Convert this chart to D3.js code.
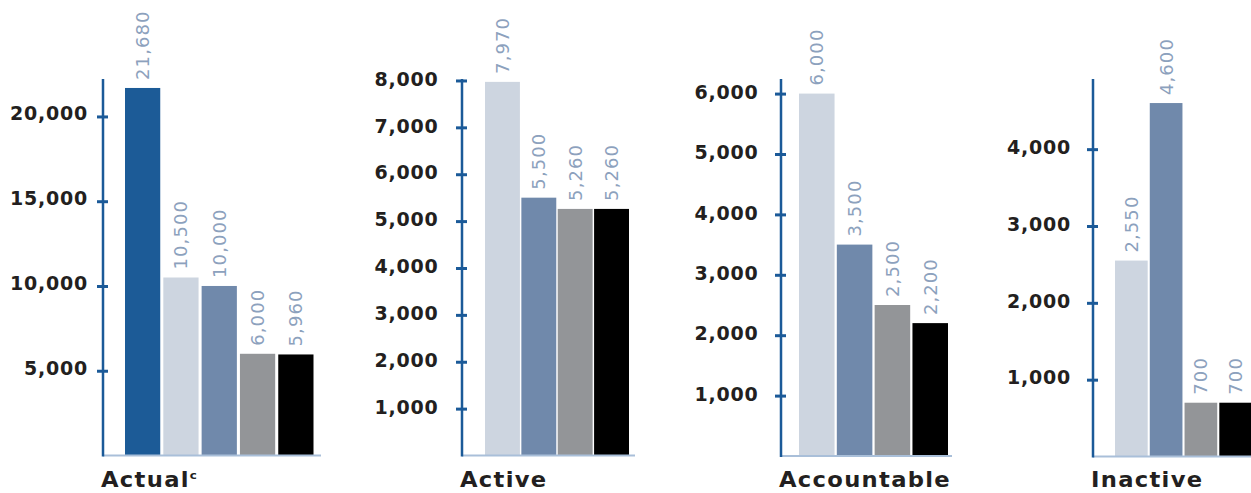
<!DOCTYPE html>
<html>
<head>
<meta charset="utf-8">
<script src="https://cdn.jsdelivr.net/npm/d3@7"></script>
<style>
  body { margin: 0; background: #fff; }
  svg { display: block; }
</style>
</head>
<body>
<div id="chart"></div>
<script>
var width = 1251;
var height = 493;

// data
var categories = ["Actual", "Active", "Accountable", "Inactive"];
var seriesKeys = ["s0", "s1", "s2", "s3", "s4"];
var actualValues = [21680, 10500, 10000, 6000, 5960];
var activeValues = [7970, 5500, 5260, 5260];
var accountableValues = [6000, 3500, 2500, 2200];
var inactiveValues = [2550, 4600, 700, 700];
var actualTicks = [5000, 10000, 15000, 20000];
var activeTicks = [1000, 2000, 3000, 4000, 5000, 6000, 7000, 8000];
var accountableTicks = [1000, 2000, 3000, 4000, 5000, 6000];
var inactiveTicks = [1000, 2000, 3000, 4000];
var axisMax = [22150, 8010, 6225, 4900];

var seriesColors = {s0: "#1c5b97", s1: "#cdd5e0", s2: "#7089ab", s3: "#939598", s4: "#000000"};

// layout of the four small panels (pixels, not data)
var panels = [
    {name: categories[0], values: actualValues, keys: seriesKeys, ticks: actualTicks, max: axisMax[0],
     axisX: 103, base: 455.5, barStart: 125, barEnd: 313.5, pad: 0.08, lineEnd: 321, tickPad: 9, tickDy: "0.18em", sup: "c"},
    {name: categories[1], values: activeValues, keys: seriesKeys.slice(1), ticks: activeTicks, max: axisMax[1],
     axisX: 462, base: 455.5, barStart: 485, barEnd: 629, pad: 0.04, lineEnd: 635, tickPad: 17.5, tickDy: "0.25em"},
    {name: categories[2], values: accountableValues, keys: seriesKeys.slice(1), ticks: accountableTicks, max: axisMax[2],
     axisX: 781, base: 456, barStart: 799, barEnd: 948, pad: 0.06, lineEnd: 952, tickPad: 16.5, tickDy: "0.25em"},
    {name: categories[3], values: inactiveValues, keys: seriesKeys.slice(1), ticks: inactiveTicks, max: axisMax[3],
     axisX: 1093, base: 456.5, barStart: 1115, barEnd: 1252, pad: 0.06, lineEnd: 1251, tickPad: 16, tickDy: "0.22em"}
];

var formatComma = d3.format(",");

var svg = d3.select("#chart")
    .append("svg")
    .attr("width", width)
    .attr("height", height);

panels.forEach(function(p) {
    var yScale = d3.scaleLinear().domain([0, p.max]).range([p.base, 80]);
    var xScale = d3.scaleBand().domain(p.keys).range([p.barStart, p.barEnd])
        .paddingInner(p.pad).paddingOuter(0);

    var rows = p.keys.map(function(k, i) { return {key: k, value: p.values[i]}; });

    var g = svg.append("g").attr("class", "panel");

    // bars
    g.selectAll(".bar")
        .data(rows)
        .enter()
        .append("rect")
        .attr("class", "bar")
        .attr("x", function(d) { return xScale(d.key); })
        .attr("width", xScale.bandwidth())
        .attr("y", function(d) { return yScale(d.value); })
        .attr("height", function(d) { return p.base - yScale(d.value); })
        .attr("fill", function(d) { return seriesColors[d.key]; });

    // rotated value labels above bars
    g.selectAll(".val")
        .data(rows)
        .enter()
        .append("text")
        .attr("class", "val")
        .attr("transform", function(d) {
            return "translate(" + (xScale(d.key) + xScale.bandwidth() / 2) + "," + (yScale(d.value) - 8) + ") rotate(-90)";
        })
        .attr("dy", "0.36em")
        .style("font-family", "'DejaVu Sans', sans-serif")
        .style("font-size", "18px")
        .style("letter-spacing", "1.1px")
        .style("fill", "#8ca1bd")
        .text(function(d) { return formatComma(d.value); });

    // light baseline
    g.append("line")
        .attr("x1", p.axisX)
        .attr("x2", p.lineEnd)
        .attr("y1", p.base)
        .attr("y2", p.base)
        .attr("stroke", "#a9bfd9")
        .attr("stroke-width", 2);

    // y axis, ticks crossing the line
    var yAxis = d3.axisLeft(yScale).tickValues(p.ticks).tickSize(11).tickPadding(p.tickPad)
        .tickFormat(formatComma);
    var ag = g.append("g")
        .attr("transform", "translate(" + (p.axisX + 5) + ",0)")
        .call(yAxis);
    ag.select(".domain").remove();
    ag.selectAll(".tick line").attr("stroke", "#1b5a98").attr("stroke-width", 3);
    ag.selectAll(".tick text")
        .attr("dy", p.tickDy)
        .style("font-family", "'DejaVu Sans', sans-serif")
        .style("font-weight", "bold")
        .style("font-size", "19px")
        .style("letter-spacing", "0.8px")
        .style("fill", "#231f20");

    g.append("line")
        .attr("x1", p.axisX)
        .attr("x2", p.axisX)
        .attr("y1", p.base + 1)
        .attr("y2", 79)
        .attr("stroke", "#1b5a98")
        .attr("stroke-width", 2.5);

    // category name under the panel (a wide face, so stretch it a little)
    var t = g.append("text")
        .attr("transform", "translate(" + (p.axisX - 2) + ",487) scale(1.08,1)")
        .style("font-family", "'DejaVu Sans', sans-serif")
        .style("font-weight", "bold")
        .style("font-size", "21px")
        .style("letter-spacing", "1.2px")
        .style("fill", "#231f20")
        .text(p.name);
    if (p.sup) {
        t.append("tspan")
            .attr("dy", -8)
            .style("font-size", "11px")
            .style("letter-spacing", "0px")
            .text(p.sup);
    }
});
</script>
</body>
</html>
